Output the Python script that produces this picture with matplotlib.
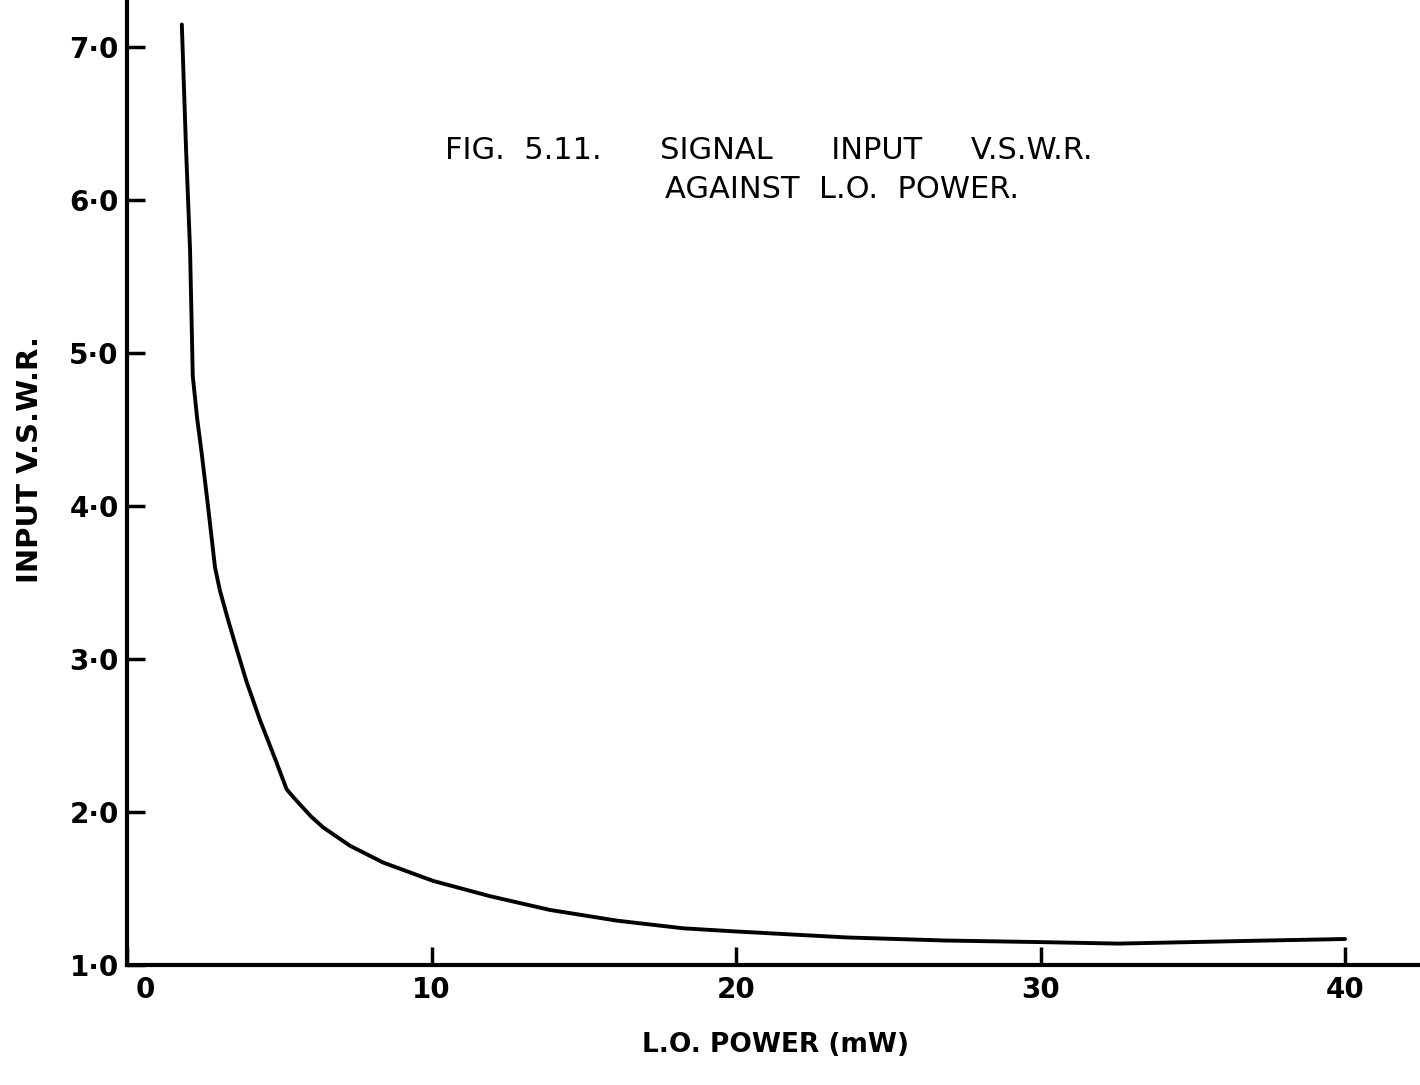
import matplotlib
matplotlib.use("Agg")
import matplotlib.pyplot as plt
import matplotlib.transforms as mtransforms

# values
lo_power = [1.80, 1.94, 2.07, 2.16, 2.30, 2.45, 2.66, 2.89, 3.05, 3.30, 3.55, 3.93,
            4.37, 4.86, 5.24, 5.45, 5.68, 6.05, 6.44, 7.32, 8.41, 10.05, 11.92,
            13.89, 16.09, 18.26, 19.93, 23.65, 26.88, 29.92, 32.55, 34.98,
            37.41, 40.0]
vswr = [7.15, 6.33, 5.68, 4.85, 4.58, 4.35, 4.00, 3.60, 3.45, 3.27, 3.10, 2.85,
        2.60, 2.35, 2.15, 2.10, 2.05, 1.97, 1.90, 1.78, 1.67, 1.55, 1.45,
        1.36, 1.29, 1.24, 1.22, 1.18, 1.16, 1.15, 1.14, 1.15,
        1.16, 1.17]

x_ticks = [0, 10, 20, 30, 40]
x_labels = ["0", "10", "20", "30", "40"]
y_ticks = [1, 2, 3, 4, 5, 6, 7]
y_labels = ["1·0", "2·0", "3·0", "4·0", "5·0", "6·0", "7·0"]

plt.rcParams["font.family"] = ["DejaVu Sans"]

fig = plt.figure(figsize=(14.2, 10.85), dpi=100)
ax = fig.add_axes([127 / 1420, 1 - 965 / 1085, 1 - 127 / 1420, 965 / 1085])

ax.plot(lo_power, vswr, color="black", lw=2.8,
        solid_capstyle="round", solid_joinstyle="round")

ax.set_xlim(0, 42.46)
ax.set_ylim(1.0, 7.31)
for side in ["top", "right"]:
    ax.spines[side].set_visible(False)
for side in ["left", "bottom"]:
    ax.spines[side].set_linewidth(3)

ax.set_xticks(x_ticks)
ax.set_xticklabels(x_labels, fontsize=20, fontweight="bold")
ax.set_yticks(y_ticks)
ax.set_yticklabels(y_labels, fontsize=20, fontweight="bold")
ax.tick_params(axis="both", direction="in", length=13, width=2.5)
ax.tick_params(axis="x", pad=8)
ax.tick_params(axis="y", pad=6)

# hand-drawn "0" sits a bit right of the origin
lbl0 = ax.get_xticklabels()[0]
lbl0.set_transform(lbl0.get_transform() + mtransforms.ScaledTranslation(0.18, 0, fig.dpi_scale_trans))

fig.text(445 / 1420, 1 - 150 / 1085, "FIG.  5.11.      SIGNAL      INPUT     V.S.W.R.",
         fontsize=22, ha="left", va="center")
fig.text(665 / 1420, 1 - 190 / 1085, "AGAINST  L.O.  POWER.",
         fontsize=22, ha="left", va="center")

fig.text(30 / 1420, 1 - 460 / 1085, "INPUT V.S.W.R.", rotation=90,
         fontsize=21, fontweight="semibold", ha="center", va="center")
fig.text(775 / 1420, 1 - 1045 / 1085, "L.O. POWER (mW)",
         fontsize=19, fontweight="semibold", ha="center", va="center")

fig.savefig("out.png", dpi=100, facecolor="white")
